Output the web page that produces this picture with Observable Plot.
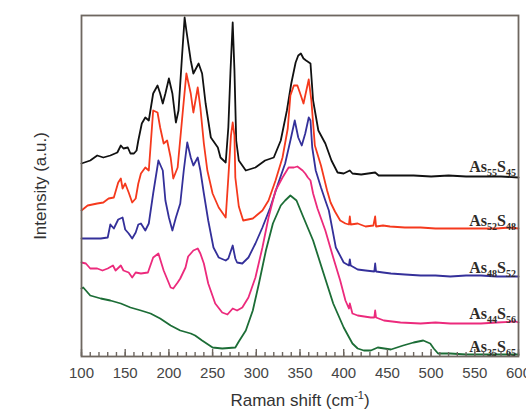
<!DOCTYPE html>
<html><head><meta charset="utf-8">
<script src="https://cdn.jsdelivr.net/npm/d3@7"></script>
<script src="https://cdn.jsdelivr.net/npm/@observablehq/plot@0.6"></script>
<style>body{margin:0;background:#fff}</style>
</head><body><div id="chart"></div>
<script>
const seriesNames = ["As55S45","As52S48","As48S52","As44S56","As35S65"];
const seriesColors = ["#111111","#f5391d","#34309a","#ec2a7c","#1c6d36"];

const shift55 = [100,110,118,125,133,141,145,148,153,156,160,163,165,169,173,177,182,187,190,193,196,200,204,208,211,215,218,220,225,228,234,238,242,248,256,259,265,268,270.5,273,275,277,280,288,299,310,320,328,335,340,345,348,351,354,357,362,365,371,379,386,393,400,407,410,420,436,440,460,480,500,520,540,560,580,600];
const int55 = [193,196,201,199,201,204,211,208,209,203,203,206,216,233,239,236,263,271,263,253,263,278,263,234,246,300,339,326,296,283,293,283,253,219,209,199,194,229,286,334,286,216,196,186,189,196,199,216,246,273,294,301,303,298,296,293,256,226,213,196,184,183,186,183,182,184,181,181,181,180,181,180,180,180,179];

const shift52 = [100,107,118,125,131,137,142,145,147,150,154,158,162,165,168,173,177,182,187,190,194,198,202,205,210,216,220,225,228,233,236,240,244,250,257,265,268,271,273,275,276,280,285,296,307,314,322,330,336,339,343,347,351,354,358,360,363,367,374,381,385,390,396,402,406,407,408,416,425,434,436,437,445,453,470,488,505,522,540,557,575,590,600];
const int52 = [146,151,153,154,158,159,174,178,168,173,164,154,158,173,183,189,186,246,244,229,213,216,199,178,189,246,283,263,244,269,249,213,186,163,149,139,179,221,234,221,179,150,136,138,146,156,176,199,228,261,271,271,261,253,269,277,256,211,191,166,154,145,136,133,132,140,132,133,130,131,140,130,131,130,129,129,128,128,128,128,128,129,128];

const shift48 = [100,110,122,130,133,137,142,147,150,154,158,162,165,168,173,177,182,188,193,196,200,204,208,213,217,221,225,228,233,236,240,245,251,257,265,268,273,276,278,284,291,299,307,316,325,333,339,344,348,352,356,360,362,364,368,374,379,383,391,400,406,407,408,416,425,435,436,437,445,454,470,488,505,522,540,557,575,590,600];
const int48 = [118,118,118,119,132,128,137,139,127,123,118,124,132,133,126,133,163,196,186,156,139,126,139,153,186,214,199,191,199,186,163,136,109,99,96,98,111,98,94,93,99,113,129,149,173,193,216,236,219,211,223,239,236,209,186,169,156,146,109,94,91,97,91,87,86,85,93,85,84,83,82,81,81,80,81,81,80,80,80];

const shift44 = [100,105,110,118,124,130,136,139,145,148,154,158,162,168,176,182,188,194,202,205,210,213,219,222,228,233,236,240,245,253,261,267,273,278,284,291,299,307,314,322,330,337,343,347,353,356,359,362,365,370,379,388,396,402,406,407,410,416,431,435,436,437,446,465,488,505,522,540,557,575,597,600];
const int44 = [94,93,88,88,86,88,91,86,91,86,84,79,84,83,84,99,103,86,69,68,74,78,89,100,106,108,103,93,73,53,44,42,48,46,49,59,79,109,139,166,179,189,189,190,186,183,179,176,163,148,126,99,76,56,48,53,43,41,39,39,46,39,36,34,33,34,33,33,33,34,35,34];

const shift35 = [100,102,110,122,133,145,156,168,179,190,202,213,225,230,238,250,261,276,280,288,296,303,311,319,328,333,339,346,354,365,377,388,400,410,416,423,431,439,454,468,480,491,499,503,508,522,540,557,575,600];
const int35 = [68,69,61,58,56,53,49,46,43,38,31,26,23,21,16,9,8,9,15,26,46,73,106,133,151,156,161,156,139,116,83,53,29,13,8,6,6,9,7,11,14,16,13,8,3,3,2,2,2,2];

const labelShift = [597,597,597,597,597];
const labelIntensity = [190,136,89,43,10];
const majorTicks = [100,150,200,250,300,350,400,450,500,550,600];
const minorTicks = d3.range(100, 601, 10);
const xTitle = "Raman shift (cm-1)";
const yTitle = "Intensity (a.u.)";

const seriesShift = [shift55, shift52, shift48, shift44, shift35];
const seriesInt = [int55, int52, int48, int44, int35];
const rows = seriesNames.flatMap((name, k) =>
  seriesShift[k].map((x, i) => ({series: name, shift: x, intensity: seriesInt[k][i]})));
const labels = seriesNames.map((name, k) => ({name, shift: labelShift[k], intensity: labelIntensity[k]}));

const frameColor = "#6e6760";
const chart = Plot.plot({
  width: 526, height: 415,
  marginLeft: 81, marginRight: 8, marginTop: 15, marginBottom: 59,
  style: {fontFamily: "'Liberation Sans', Arial, sans-serif", background: "#fff"},
  x: {domain: [100, 600]},
  y: {domain: [0, 341], axis: null},
  color: {domain: seriesNames, range: seriesColors},
  marks: [
    Plot.line(rows, {x: "shift", y: "intensity", z: "series", stroke: "series", strokeWidth: 1.8}),
    Plot.frame({stroke: frameColor, strokeWidth: 1.8}),
    Plot.axisX({ticks: minorTicks, tickSize: 4, dy: -4, tickFormat: () => "", color: frameColor, strokeWidth: 1.4, label: null}),
    Plot.axisX({ticks: majorTicks, tickSize: 7, dy: -7, tickFormat: () => "", color: frameColor, strokeWidth: 1.4, label: null}),
    Plot.axisX({ticks: majorTicks, tickSize: 0, tickPadding: 11, fontSize: 15, color: "#454545", label: null}),
    Plot.text(labels, {x: "shift", y: "intensity", text: "name", textAnchor: "end",
      fontFamily: "'Liberation Serif', 'Times New Roman', serif", fontWeight: "bold", fontSize: 16, fill: "#2e2b28"}),
    Plot.text([xTitle], {frameAnchor: "bottom", textAnchor: "middle", dy: 49, fontSize: 17, fill: "#333"}),
    Plot.text([yTitle], {frameAnchor: "left", textAnchor: "middle", rotate: -90, dx: -41, fontSize: 17, fill: "#333"})
  ]
});

d3.select(chart).selectAll("text").each(function() {
  const t = this.textContent;
  const m = /^As(\d+)S(\d+)$/.exec(t);
  const el = d3.select(this);
  if (m) {
    el.attr("dy", null).text(null);
    el.append("tspan").text("As");
    el.append("tspan").attr("font-size", 10).attr("dy", 4).text(m[1]);
    el.append("tspan").attr("dy", -4).text("S");
    el.append("tspan").attr("font-size", 10).attr("dy", 4).text(m[2]);
  } else if (t === xTitle) {
    el.text(null);
    el.append("tspan").text("Raman shift (cm");
    el.append("tspan").attr("font-size", 11).attr("dy", -7).text("-1");
    el.append("tspan").attr("dy", 7).text(")");
  }
});
document.getElementById("chart").appendChild(chart);
</script>
</body></html>
